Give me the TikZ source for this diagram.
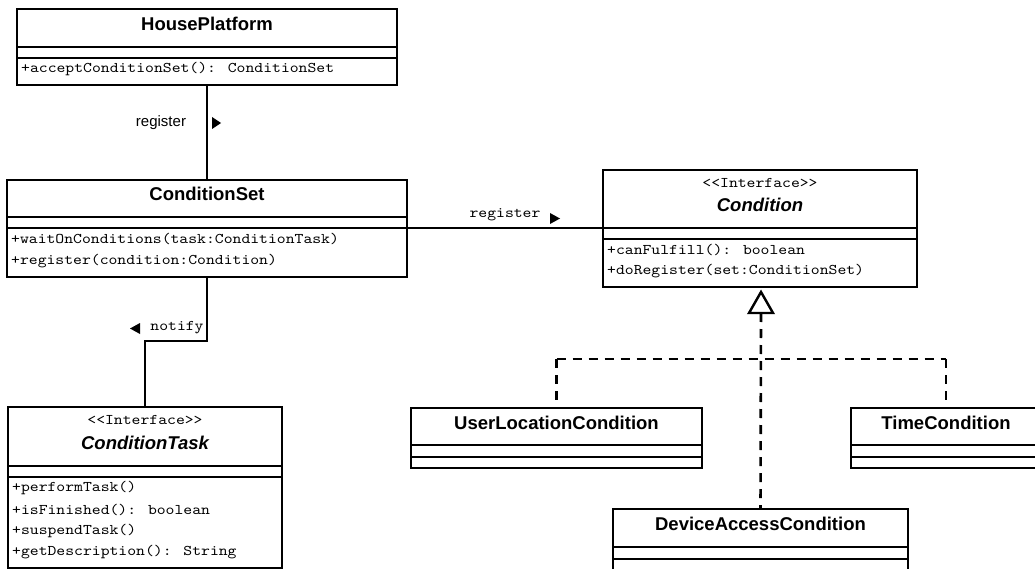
\documentclass[tikz,border=0pt]{standalone}
\usepackage{fontspec}
\setmainfont{Liberation Sans}
% serif typewriter face, widened to Courier's advance
\newfontfamily\codefont{lmmono10-regular.otf}[FakeStretch=1.14]
\newcommand{\stereotype}[1]{<\kern0pt<#1>\kern0pt>}
\begin{document}
\begin{tikzpicture}[x=1pt,y=-1pt,
  cls/.style={draw, line width=2.6pt, inner sep=0pt, outer sep=0pt, anchor=north west, fill=white},
  sep/.style={line width=2.6pt},
  ttl/.style={font=\fontsize{18.5}{20}\selectfont\bfseries, inner sep=0pt},
  ittl/.style={font=\fontsize{18.5}{20}\selectfont\bfseries\itshape, inner sep=0pt},
  stereo/.style={font=\codefont\fontsize{14.8}{16}\selectfont, inner sep=0pt},
  op/.style={font=\codefont\fontsize{14.8}{16}\selectfont, inner sep=0pt, anchor=west},
  link/.style={line width=2.6pt},
  real/.style={line width=2.6pt, dash pattern=on 9pt off 7pt},
  lbl/.style={font=\fontsize{15}{17}\selectfont, inner sep=0pt},
  codelbl/.style={font=\codefont\fontsize{14.8}{16}\selectfont, inner sep=0pt},
]
\useasboundingbox (0,0) rectangle (1035,569);
\clip (0,0) rectangle (1035,569);

% ---------- HousePlatform ----------
\node[cls, minimum width=380pt, minimum height=76pt] (hp) at (17,9) {};
\draw[sep] ([yshift=-38pt]hp.north west) -- ([yshift=-38pt]hp.north east);
\draw[sep] ([yshift=-49pt]hp.north west) -- ([yshift=-49pt]hp.north east);
\node[ttl] (hpname) at ([yshift=-15pt]hp.north) {HousePlatform};
\node[op] (hpop1) at ([xshift=4pt,yshift=-60pt]hp.north west) {+acceptConditionSet(): ConditionSet};

% ---------- ConditionSet ----------
\node[cls, minimum width=400pt, minimum height=97pt] (cs) at (7,180) {};
\draw[sep] ([yshift=-37pt]cs.north west) -- ([yshift=-37pt]cs.north east);
\draw[sep] ([yshift=-48pt]cs.north west) -- ([yshift=-48pt]cs.north east);
\node[ttl] (csname) at ([yshift=-14pt]cs.north) {ConditionSet};
\node[op] (csop1) at ([xshift=4pt,yshift=-59pt]cs.north west) {+waitOnConditions(task:ConditionTask)};
\node[op] (csop2) at ([xshift=4pt,yshift=-81pt]cs.north west) {+register(condition:Condition)};

% ---------- Condition (interface) ----------
\node[cls, minimum width=314pt, minimum height=117pt] (cond) at (603,170) {};
\draw[sep] ([yshift=-58pt]cond.north west) -- ([yshift=-58pt]cond.north east);
\draw[sep] ([yshift=-69pt]cond.north west) -- ([yshift=-69pt]cond.north east);
\node[stereo] (condst) at ([yshift=-13pt]cond.north) {\stereotype{Interface}};
\node[ittl] (condname) at ([yshift=-35pt]cond.north) {Condition};
\node[op] (condop1) at ([xshift=4pt,yshift=-80pt]cond.north west) {+canFulfill(): boolean};
\node[op] (condop2) at ([xshift=4pt,yshift=-101pt]cond.north west) {+doRegister(set:ConditionSet)};

% ---------- ConditionTask (interface) ----------
\node[cls, minimum width=274pt, minimum height=161pt] (ct) at (8,407) {};
\draw[sep] ([yshift=-59pt]ct.north west) -- ([yshift=-59pt]ct.north east);
\draw[sep] ([yshift=-70pt]ct.north west) -- ([yshift=-70pt]ct.north east);
\node[stereo] (ctst) at ([yshift=-13pt]ct.north) {\stereotype{Interface}};
\node[ittl] (ctname) at ([yshift=-36pt]ct.north) {ConditionTask};
\node[op] (ctop1) at ([xshift=4pt,yshift=-81pt]ct.north west) {+performTask()};
\node[op] (ctop2) at ([xshift=4pt,yshift=-102.5pt]ct.north west) {+isFinished(): boolean};
\node[op] (ctop3) at ([xshift=4pt,yshift=-124pt]ct.north west) {+suspendTask()};
\node[op] (ctop4) at ([xshift=4pt,yshift=-145.5pt]ct.north west) {+getDescription(): String};

% ---------- implementing classes ----------
\node[cls, minimum width=291pt, minimum height=60pt] (ul) at (411,408) {};
\draw[sep] ([yshift=-37pt]ul.north west) -- ([yshift=-37pt]ul.north east);
\draw[sep] ([yshift=-49pt]ul.north west) -- ([yshift=-49pt]ul.north east);
\node[ttl] (ulname) at ([yshift=-15pt]ul.north) {UserLocationCondition};

\node[cls, minimum width=190pt, minimum height=60pt] (tc) at (851,408) {};
\draw[sep] ([yshift=-37pt]tc.north west) -- ([yshift=-37pt]tc.north east);
\draw[sep] ([yshift=-49pt]tc.north west) -- ([yshift=-49pt]tc.north east);
\node[ttl] (tcname) at ([yshift=-15pt]tc.north) {TimeCondition};

\node[cls, minimum width=295pt, minimum height=61pt] (da) at (613,509) {};
\draw[sep] ([yshift=-38pt]da.north west) -- ([yshift=-38pt]da.north east);
\draw[sep] ([yshift=-50pt]da.north west) -- ([yshift=-50pt]da.north east);
\node[ttl] (daname) at ([yshift=-15pt]da.north) {DeviceAccessCondition};

% ---------- associations ----------
\draw[link] (hp.south) -- (cs.north);
\node[lbl] (reg1) at (161,123) {register};
\fill (212,117) -- (221,123) -- (212,129) -- cycle;

\draw[link] ([yshift=-48pt]cs.north east) -- ([yshift=-58pt]cond.north west);
\node[codelbl] (reg2) at (505,215) {register};
\fill (550,213) -- (560,218.5) -- (550,224) -- cycle;

\draw[link] (cs.south) -- ++(0,64) -| (ct.north);
\node[codelbl] (notify) at (177,328) {notify};
\fill (140,323) -- (130,328.5) -- (140,334) -- cycle;

% ---------- realization ----------
\coordinate (tip) at (761,292);
\coordinate (base) at (761,313);
\coordinate (bus) at (761,359);
\draw[line width=2.4pt, line join=miter] (tip) -- (749,313) -- (773,313) -- cycle;
\draw[real] (base) -- (da.north);
\draw[real] (ul.north |- bus) -- (tc.north |- bus);
\draw[real] (ul.north |- bus) -- (ul.north);
\draw[real] (tc.north |- bus) -- (tc.north);
\end{tikzpicture}
\end{document}
